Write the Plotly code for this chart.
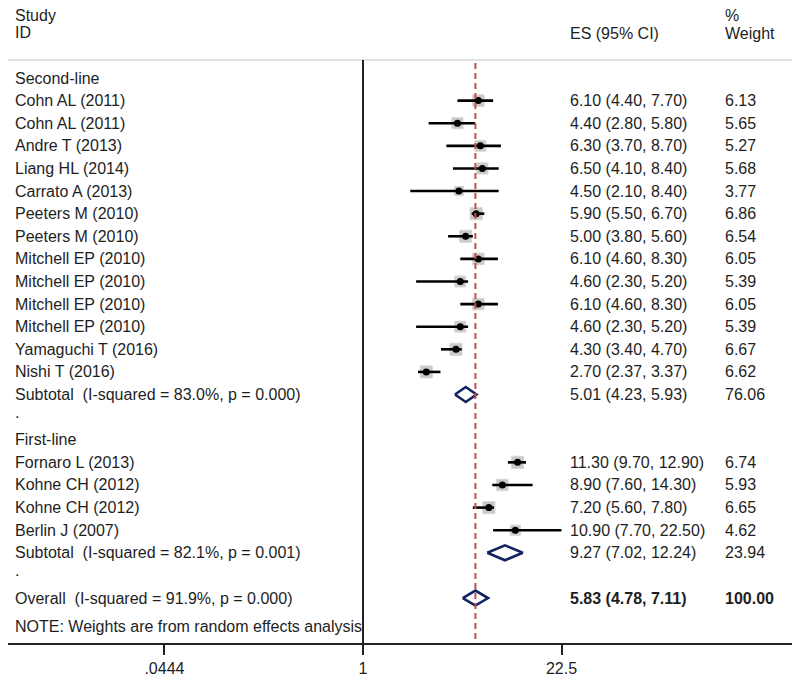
import plotly.graph_objects as go

# ---------------- data ----------------
second_studies = ["Cohn AL (2011)", "Cohn AL (2011)", "Andre T (2013)", "Liang HL (2014)",
                  "Carrato A (2013)", "Peeters M (2010)", "Peeters M (2010)", "Mitchell EP (2010)",
                  "Mitchell EP (2010)", "Mitchell EP (2010)", "Mitchell EP (2010)",
                  "Yamaguchi T (2016)", "Nishi T (2016)"]
second_es = [6.10, 4.40, 6.30, 6.50, 4.50, 5.90, 5.00, 6.10, 4.60, 6.10, 4.60, 4.30, 2.70]
second_lo = [4.40, 2.80, 3.70, 4.10, 2.10, 5.50, 3.80, 4.60, 2.30, 4.60, 2.30, 3.40, 2.37]
second_hi = [7.70, 5.80, 8.70, 8.40, 8.40, 6.70, 5.60, 8.30, 5.20, 8.30, 5.20, 4.70, 3.37]
second_w = [6.13, 5.65, 5.27, 5.68, 3.77, 6.86, 6.54, 6.05, 5.39, 6.05, 5.39, 6.67, 6.62]

first_studies = ["Fornaro L (2013)", "Kohne CH (2012)", "Kohne CH (2012)", "Berlin J (2007)"]
first_es = [11.30, 8.90, 7.20, 10.90]
first_lo = [9.70, 7.60, 5.60, 7.70]
first_hi = [12.90, 14.30, 7.80, 22.50]
first_w = [6.74, 5.93, 6.65, 4.62]

sub_labels = ["Subtotal\u00a0 (I-squared = 83.0%, p = 0.000)",
              "Subtotal\u00a0 (I-squared = 82.1%, p = 0.001)"]
sub_es = [5.01, 9.27]
sub_lo = [4.23, 7.02]
sub_hi = [5.93, 12.24]
sub_w = [76.06, 23.94]

overall_label = "Overall\u00a0 (I-squared = 91.9%, p = 0.000)"
overall_es = 5.83
overall_lo = 4.78
overall_hi = 7.11
overall_w = 100.00

group_labels = ["Second-line", "First-line"]
note_text = "NOTE: Weights are from random effects analysis"

tick_vals = [0.0444, 1, 22.5]
tick_text = [".0444", "1", "22.5"]

# ---------------- layout helpers ----------------
# the page body has an 8px margin, so the figure is drawn 8px smaller/shifted
OFF = 8
W, H = 800 - OFF, 679 - OFF
ML, MR, MT, MB = 0, 3, 0, 36
PW = W - ML - MR
PH = H - MT - MB
ROW0, ROWH = 78 - OFF, 22.61     # pixel y of row 0, row pitch
X1 = 363 - OFF                   # pixel x of value 1
PXDEC = 146.8                    # pixels per decade


def row_of(py_ref):
    return (py_ref - OFF - ROW0) / ROWH


def px(x_ref):
    return (x_ref - OFF) / PW


FONT = "Liberation Sans, Arial, sans-serif"
FS = 16
TXT = "#1e1e1e"

# row assignments
r_g1 = 0
r_second = list(range(1, 1 + len(second_studies)))
r_sub1 = r_second[-1] + 1
r_dot1 = r_sub1 + 1
r_g2 = r_dot1 + 1
r_first = list(range(r_g2 + 1, r_g2 + 1 + len(first_studies)))
r_sub2 = r_first[-1] + 1
r_dot2 = r_sub2 + 1
r_over = r_dot2 + 1
r_note = row_of(626)

studies = second_studies + first_studies
es = second_es + first_es
lo = second_lo + first_lo
hi = second_hi + first_hi
wt = second_w + first_w
rows = r_second + r_first

fig = go.Figure()

# grey weight boxes
fig.add_trace(go.Scatter(
    x=es, y=rows, mode="markers",
    marker=dict(symbol="square", size=[4.7 * (w ** 0.5) for w in wt],
                color="#b3b3b3", line=dict(width=1, color="#c8c8c8")),
    hoverinfo="skip", showlegend=False))

# CI lines
cx, cy = [], []
for l, h_, r in zip(lo, hi, rows):
    cx += [l, h_, None]
    cy += [r, r, None]
fig.add_trace(go.Scatter(x=cx, y=cy, mode="lines",
                         line=dict(color="black", width=2.6),
                         hoverinfo="skip", showlegend=False))

# point estimates
fig.add_trace(go.Scatter(x=es, y=rows, mode="markers",
                         marker=dict(symbol="circle", size=7, color="black"),
                         hoverinfo="skip", showlegend=False))

# diamonds
dh = 7.5 / ROWH
d_es = sub_es + [overall_es]
d_lo = sub_lo + [overall_lo]
d_hi = sub_hi + [overall_hi]
d_rows = [r_sub1, r_sub2, r_over]
for e, l, h_, r in zip(d_es, d_lo, d_hi, d_rows):
    fig.add_trace(go.Scatter(x=[l, e, h_, e, l], y=[r, r - dh, r, r + dh, r],
                             mode="lines", line=dict(color="#142360", width=2.6),
                             hoverinfo="skip", showlegend=False))

top_row = row_of(60)
bottom_row = (PH - ROW0) / ROWH
top_range = (0 - ROW0) / ROWH

shapes = [
    # top rule
    dict(type="line", xref="paper", yref="y", x0=0, x1=1, y0=top_row, y1=top_row,
         line=dict(color="#c8c8c8", width=1.2)),
    # null line
    dict(type="line", xref="x", yref="y", x0=1, x1=1, y0=top_row, y1=bottom_row,
         line=dict(color="#222222", width=2)),
    # overall effect line
    dict(type="line", xref="x", yref="y", x0=overall_es, x1=overall_es,
         y0=row_of(63), y1=bottom_row,
         line=dict(color="#c0504d", width=2, dash="6px,4px")),
]

ann = []


def t(x_ref, y, text, bold=False, anchor="left"):
    ann.append(dict(xref="paper", yref="y", x=px(x_ref - 2), y=y,
                    text=f"<b>{text}</b>" if bold else text,
                    showarrow=False, xanchor=anchor, yanchor="middle",
                    font=dict(family=FONT, size=FS, color=TXT)))


# headers
t(15, row_of(15), "Study")
t(15, row_of(32), "ID")
t(570, row_of(33), "ES (95% CI)")
t(725, row_of(15), "%")
t(725, row_of(33), "Weight")

t(15, r_g1, group_labels[0])
t(15, r_g2, group_labels[1])
for s, e, l, h_, w, r in zip(studies, es, lo, hi, wt, rows):
    t(15, r, s)
    t(570, r, f"{e:.2f} ({l:.2f}, {h_:.2f})")
    t(725, r, f"{w:.2f}")
for lab, e, l, h_, w, r in zip(sub_labels, sub_es, sub_lo, sub_hi, sub_w, [r_sub1, r_sub2]):
    t(15, r, lab)
    t(570, r, f"{e:.2f} ({l:.2f}, {h_:.2f})")
    t(725, r, f"{w:.2f}")
t(15, r_dot1 - 0.2, ".")
t(15, r_dot2 - 0.2, ".")
t(15, r_over, overall_label)
t(570, r_over, f"{overall_es:.2f} ({overall_lo:.2f}, {overall_hi:.2f})", bold=True)
t(725, r_over, f"{overall_w:.2f}", bold=True)
t(15, r_note, note_text)

x_left = -X1 / PXDEC
x_right = (PW - X1) / PXDEC

fig.update_layout(
    width=W, height=H,
    margin=dict(l=ML, r=MR, t=MT, b=MB),
    paper_bgcolor="white", plot_bgcolor="white",
    shapes=shapes, annotations=ann,
    xaxis=dict(type="log", range=[x_left, x_right], tickvals=tick_vals, ticktext=tick_text,
               showline=True, linecolor="#222222", linewidth=2, ticks="outside",
               ticklen=10, tickwidth=2, tickcolor="#222222", showgrid=False, zeroline=False,
               tickfont=dict(family=FONT, size=FS, color=TXT)),
    yaxis=dict(range=[bottom_row, top_range], visible=False, showgrid=False, zeroline=False),
    showlegend=False,
)

fig.write_html("out.html")
